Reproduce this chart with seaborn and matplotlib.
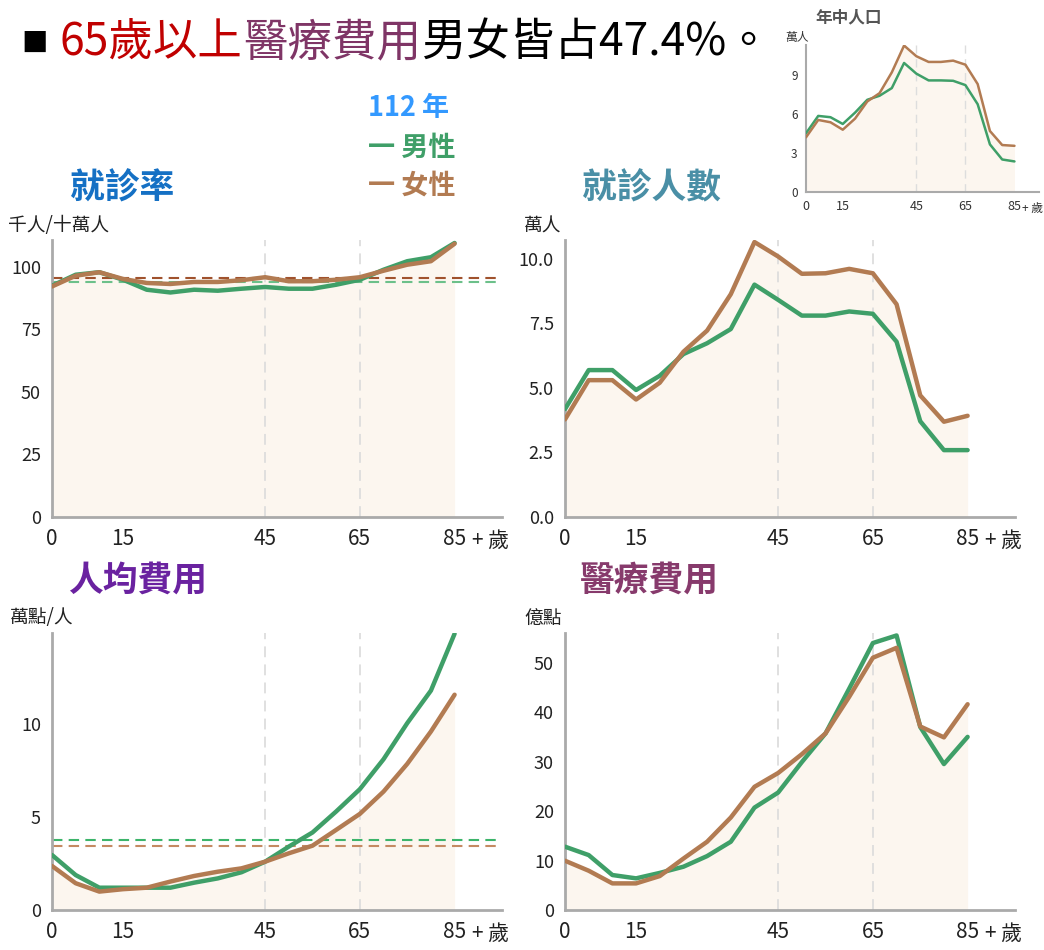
import numpy as np
import pandas as pd
import matplotlib
matplotlib.use('Agg')
import matplotlib.pyplot as plt
import seaborn as sns

sns.set_style('white')
plt.rcParams['font.family'] = ['Noto Sans CJK TC', 'DejaVu Sans']

# age groups 0,5,...,85+
ages = [0, 5, 10, 15, 20, 25, 30, 35, 40, 45, 50, 55, 60, 65, 70, 75, 80, 85]

# 就診率 (千人/十萬人)
rate_m = [92.5, 96.9, 97.9, 94.9, 90.9, 89.8, 90.9, 90.5, 91.3, 92.0, 91.3, 91.3, 92.9, 94.9, 98.9, 102.3, 103.9, 109.6]
rate_f = [92.2, 96.5, 97.9, 95.2, 93.6, 93.2, 94.0, 94.0, 94.7, 95.9, 94.3, 94.3, 94.9, 95.9, 98.5, 100.9, 102.3, 109.3]
rate_avg_m, rate_avg_f = 94.0, 95.7

# 就診人數 (萬人)
pat_m = [4.18, 5.69, 5.69, 4.92, 5.47, 6.31, 6.73, 7.28, 9.0, 8.41, 7.8, 7.8, 7.96, 7.87, 6.79, 3.71, 2.59, 2.59]
pat_f = [3.78, 5.3, 5.3, 4.55, 5.2, 6.4, 7.22, 8.63, 10.65, 10.09, 9.42, 9.44, 9.61, 9.44, 8.24, 4.71, 3.69, 3.92]

# 人均費用 (萬點/人)
per_m = [2.96, 1.88, 1.2, 1.2, 1.2, 1.2, 1.47, 1.7, 2.03, 2.6, 3.41, 4.17, 5.3, 6.5, 8.11, 10.05, 11.8, 14.86]
per_f = [2.37, 1.44, 0.99, 1.12, 1.2, 1.53, 1.83, 2.06, 2.24, 2.6, 3.05, 3.46, 4.31, 5.17, 6.37, 7.86, 9.6, 11.58]
per_avg_m, per_avg_f = 3.75, 3.45

# 醫療費用 (億點)
cost_m = [12.8, 11.1, 7.07, 6.4, 7.5, 8.75, 10.9, 13.8, 20.7, 23.75, 29.9, 35.7, 44.75, 53.97, 55.5, 37.0, 29.5, 35.0]
cost_f = [9.96, 7.94, 5.38, 5.38, 6.86, 10.4, 13.8, 18.7, 24.9, 27.7, 31.5, 35.7, 43.1, 51.0, 53.0, 37.1, 34.9, 41.6]

# 年中人口 (萬人)
pop_m = [4.51, 5.85, 5.75, 5.23, 6.1, 7.09, 7.4, 7.99, 9.92, 9.1, 8.58, 8.58, 8.55, 8.22, 6.75, 3.66, 2.5, 2.35]
pop_f = [4.2, 5.54, 5.36, 4.79, 5.64, 6.96, 7.6, 9.2, 11.26, 10.44, 10.0, 10.0, 10.1, 9.79, 8.3, 4.69, 3.61, 3.55]

GREEN = '#3f9f68'
BROWN = '#b27b52'
FILL = '#fcf6ef'
xticks = [0, 15, 45, 65, 85]

fig = plt.figure(figsize=(10.44, 9.5), dpi=100)


def panel(rect, male, female, ylim, yticks, ytl, avg=None, lw=3.2, fs=13, small=False):
    ax = fig.add_axes(rect)
    ax.fill_between(ages, female, color=FILL, lw=0, zorder=0)
    for v in (45, 65):
        ax.axvline(v, color='#dddddd', lw=1.3 if not small else 1.0,
                   ls=(0, (6, 4)), zorder=1)
    if avg is not None:
        (am, cm), (af, cf) = avg
        ax.axhline(am, color=cm, lw=1.5, ls=(0, (5, 3)), zorder=2)
        ax.axhline(af, color=cf, lw=1.5, ls=(0, (5, 3)), zorder=2)
    df = pd.DataFrame({'age': ages, 'm': male, 'f': female})
    sns.lineplot(data=df, x='age', y='m', color=GREEN, lw=lw, ax=ax, zorder=3)
    sns.lineplot(data=df, x='age', y='f', color=BROWN, lw=lw, ax=ax, zorder=4)
    ax.set_xlim(0, 95)
    ax.set_ylim(*ylim)
    xfs = fs + (2 if not small else 0.5)
    ax.set_xticks(xticks)
    ax.set_xticklabels([str(t) for t in xticks], fontsize=xfs)
    ax.set_yticks(yticks)
    ax.set_yticklabels(ytl, fontsize=fs)
    ax.set_xlabel('')
    ax.set_ylabel('')
    for s in ('top', 'right'):
        ax.spines[s].set_visible(False)
    for s in ('left', 'bottom'):
        ax.spines[s].set_color('#aaaaaa')
        ax.spines[s].set_linewidth(2.0 if not small else 1.5)
    tl = 6 if not small else 4
    ax.tick_params(axis='both', direction='out', length=tl,
                   width=2 if not small else 1.2, color='#222222', pad=2,
                   labelcolor='#222222' if not small else '#333333')
    # "+ 歲" after the 85 tick label
    if small:
        dx, afs = xfs * 0.6, xfs - 0.5
    else:
        dx, afs = xfs * 0.85, xfs
    ax.annotate('+ 歲', xy=(85, 0), xycoords=('data', 'axes fraction'),
                xytext=(dx, -tl - 2 - xfs * 0.62),
                textcoords='offset points', ha='left', va='center',
                fontsize=afs, color='#222222' if not small else '#333333')
    return ax


# main panels
ax1 = panel([0.0498, 0.4558, 0.431, 0.2916], rate_m, rate_f, (0, 110.8),
            [0, 25, 50, 75, 100], ['0', '25', '50', '75', '100'],
            avg=((rate_avg_m, '#6cc08a'), (rate_avg_f, '#a0522d')))
ax2 = panel([0.5412, 0.4558, 0.431, 0.2916], pat_m, pat_f, (0, 10.73),
            [0, 2.5, 5, 7.5, 10], ['0.0', '2.5', '5.0', '7.5', '10.0'])
ax3 = panel([0.0498, 0.0421, 0.431, 0.2916], per_m, per_f, (0, 14.9),
            [0, 5, 10], ['0', '5', '10'],
            avg=((per_avg_m, '#3cb46a'), (per_avg_f, '#c48a62')))
ax4 = panel([0.5412, 0.0421, 0.431, 0.2916], cost_m, cost_f, (0, 56),
            [0, 10, 20, 30, 40, 50], ['0', '10', '20', '30', '40', '50'])
axi = panel([0.772, 0.7979, 0.2232, 0.1547], pop_m, pop_f, (0, 11.3),
            [0, 3, 6, 9], ['0', '3', '6', '9'], lw=1.8, fs=8.5, small=True)

# panel titles and units
fig.text(70 / 1044, 1 - 188 / 950, '就診率', color='#1570c4', fontsize=25,
         fontweight='bold', va='center')
fig.text(582 / 1044, 1 - 188 / 950, '就診人數', color='#4a8fa6', fontsize=25,
         fontweight='bold', va='center')
fig.text(68 / 1044, 1 - 580 / 950, '人均費用', color='#6a22a0', fontsize=25,
         fontweight='bold', va='center')
fig.text(580 / 1044, 1 - 580 / 950, '醫療費用', color='#873a6c', fontsize=25,
         fontweight='bold', va='center')
fig.text(815 / 1044, 1 - 17 / 950, '年中人口', color='#555555', fontsize=12,
         fontweight='bold', va='center')

fig.text(8 / 1044, 1 - 226 / 950, '千人/十萬人', fontsize=13.5, color='#222222', va='center')
fig.text(524 / 1044, 1 - 226 / 950, '萬人', fontsize=13.5, color='#222222', va='center')
fig.text(10 / 1044, 1 - 618 / 950, '萬點/人', fontsize=13.5, color='#222222', va='center')
fig.text(524 / 1044, 1 - 618 / 950, '億點', fontsize=13.5, color='#222222', va='center')
fig.text(785 / 1044, 1 - 37 / 950, '萬人', fontsize=8.5, color='#333333', va='center')

# legend
fig.text(368 / 1044, 1 - 108 / 950, '112 年', color='#3399ff', fontsize=19.5,
         fontweight='bold', va='center')
fig.text(368 / 1044, 1 - 148 / 950, '一 男性', color=GREEN, fontsize=19.5,
         fontweight='bold', va='center')
fig.text(368 / 1044, 1 - 186 / 950, '一 女性', color=BROWN, fontsize=19.5,
         fontweight='bold', va='center')

# multi-coloured headline
fig.text(21 / 1044, 1 - 44 / 950, '■', color='#000000', fontsize=19, va='center')
pieces = [('65歲以上', '#c00000'), ('醫療費用', '#7f3566'), ('男女皆占47.4%。', '#000000')]
renderer = fig.canvas.get_renderer()
x = 60 / 1044
for txt, col in pieces:
    t = fig.text(x, 1 - 42 / 950, txt, color=col, fontsize=32, va='center')
    bb = t.get_window_extent(renderer=renderer)
    x += bb.width / fig.bbox.width

fig.savefig('out.png', dpi=100)
